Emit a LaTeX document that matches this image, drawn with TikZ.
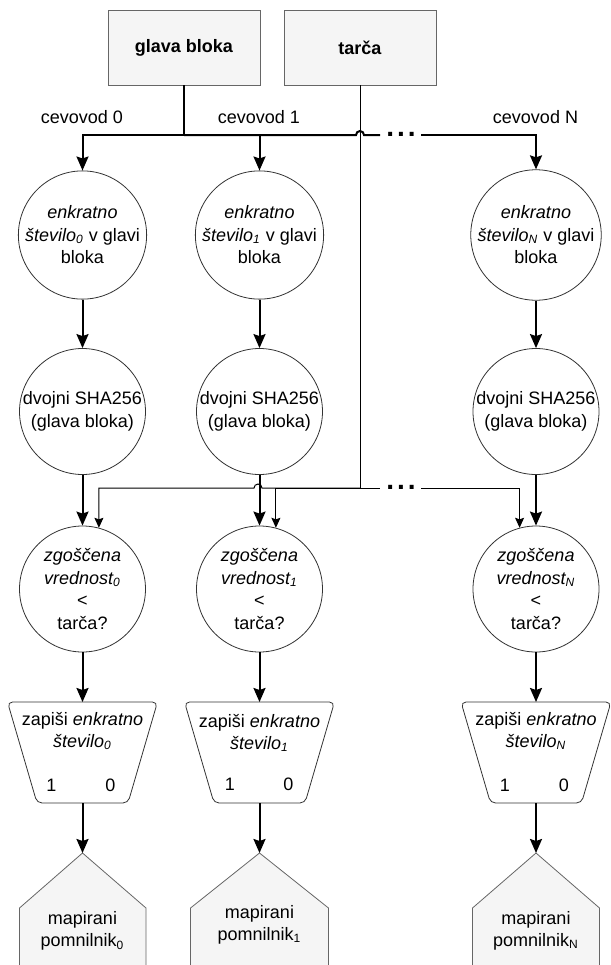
\documentclass[tikz,border=0pt]{standalone}
\usepackage{fontspec}
\setmainfont{Liberation Sans}
\usetikzlibrary{arrows.meta}

\begin{document}
\begin{tikzpicture}[x=0.5pt, y=-0.5pt,
    every node/.style={font=\fontsize{9}{11.25}\selectfont, align=center},
    box/.style={draw=black!60, fill=black!4, minimum width=76pt, minimum height=37.5pt, inner sep=0pt, font=\fontsize{9}{11.25}\selectfont\bfseries},
    ring/.style={circle, draw=black!80, minimum size=63pt, inner sep=0pt},
    zap/.style={draw=black!80, rounded corners=2.5pt},
    mem/.style={draw=black!60, fill=black!4},
    dots/.style={font=\fontsize{14}{16}\selectfont\bfseries, inner sep=0pt},
    arr/.style={line width=1pt, -{Stealth[length=7pt, width=6pt, inset=1pt]}},
    tarr/.style={line width=0.5pt, -{Stealth[length=5pt, width=4.5pt, inset=0.8pt]}},
    ]
    \useasboundingbox (0,0) rectangle (611,965);
    \clip (0,0) rectangle (611,965);

    % heads
    \node[box] (glava) at (184,47.5) {glava bloka};
    \node[box] (tarca) at (360,47.5) {tarča};
    \node (cev0) at (82,117) {cevovod 0};
    \node (cev1) at (259,117) {cevovod 1};
    \node (cevN) at (535.5,117) {cevovod N};

    % cevovod 0
    \node[ring] (enk0) at (82.5,235) {\textit{enkratno}\\\textit{število\textsubscript{0}} v glavi\\bloka};
    \node[ring] (dvo0) at (82.5,411.5) {dvojni SHA256\\(glava bloka)};
    \node[ring] (zgo0) at (82.5,589) {\textit{zgoščena}\\\textit{vrednost\textsubscript{0}}\\<\\tarča?};
    \draw[zap] (7.5,702) -- (157.5,702) -- (128,803) -- (37,803) -- cycle;
    \coordinate (zin0) at (82.5,702);
    \coordinate (zout0) at (82.5,803);
    \node (zt0) at (82.5,731) {zapiši \textit{enkratno}\\\textit{število\textsubscript{0}}};
    \node (ena0) at (51.5,785) {1};
    \node (nic0) at (110.5,785) {0};
    \draw[mem] (19.5,980) -- (19.5,908) -- (82.5,853) -- (146,908) -- (146,980);
    \coordinate (top0) at (82.5,853);
    \node (mp0) at (82.5,931) {mapirani\\pomnilnik\textsubscript{0}};

    % cevovod 1
    \node[ring] (enk1) at (259.5,235) {\textit{enkratno}\\\textit{število\textsubscript{1}} v glavi\\bloka};
    \node[ring] (dvo1) at (259.5,411.5) {dvojni SHA256\\(glava bloka)};
    \node[ring] (zgo1) at (259.5,589) {\textit{zgoščena}\\\textit{vrednost\textsubscript{1}}\\<\\tarča?};
    \draw[zap] (184.5,702) -- (334.5,702) -- (305,803) -- (214,803) -- cycle;
    \coordinate (zin1) at (259.5,702);
    \coordinate (zout1) at (259.5,803);
    \node (zt1) at (259.5,733) {zapiši \textit{enkratno}\\\textit{število\textsubscript{1}}};
    \node (ena1) at (230,784) {1};
    \node (nic1) at (288.5,784) {0};
    \draw[mem] (190.5,980) -- (190.5,908) -- (259.5,853) -- (328.5,908) -- (328.5,980);
    \coordinate (top1) at (259.5,853);
    \node (mp1) at (259.5,925) {mapirani\\pomnilnik\textsubscript{1}};

    % cevovod N
    \node[ring] (enkN) at (536,235) {\textit{enkratno}\\\textit{število\textsubscript{N}} v glavi\\bloka};
    \node[ring] (dvoN) at (536,411.5) {dvojni SHA256\\(glava bloka)};
    \node[ring] (zgoN) at (536,589) {\textit{zgoščena}\\\textit{vrednost\textsubscript{N}}\\<\\tarča?};
    \draw[zap] (461,702) -- (611,702) -- (581.5,803) -- (490.5,803) -- cycle;
    \coordinate (zinN) at (536,702);
    \coordinate (zoutN) at (536,803);
    \node (ztN) at (536,731) {zapiši \textit{enkratno}\\\textit{število\textsubscript{N}}};
    \node (enaN) at (505,785) {1};
    \node (nicN) at (564,785) {0};
    \draw[mem] (472.5,980) -- (472.5,908) -- (536,853) -- (599.5,908) -- (599.5,980);
    \coordinate (topN) at (536,853);
    \node (mpN) at (536,931) {mapirani\\pomnilnik\textsubscript{N}};

    % glava bloka to all pipelines
    \draw[line width=0.5pt] (tarca.south) -- (360,488);
    \draw[line width=1pt] (glava.south) -- (184,135);
    \draw[arr] (184,135) -| (enk0.north);
    \draw[arr] (184,135) -| (enk1.north);
    \draw[line width=1pt] (184,135) -- (356,135) arc(180:360:4) -- (380,135);
    \node[dots] (dt1) at (401,134) {.\hspace{1.5pt}.\hspace{1.5pt}.};
    \draw[arr] (421,135) -| (enkN.north);

    % tarca to all comparisons
    \draw[tarr] (360,488) -- (262,488) arc(0:-180:4) -| (zgo0.75);
    \draw[tarr] (360,488) -| (zgo1.75);
    \draw[line width=0.5pt] (360,488) -- (380,488);
    \node[dots] (dt2) at (401,487) {.\hspace{1.5pt}.\hspace{1.5pt}.};
    \draw[tarr] (421,488) -| (zgoN.105);

    % pipeline steps
    \draw[arr] (enk0.south) -- (dvo0.north);
    \draw[arr] (dvo0.south) -- (zgo0.north);
    \draw[arr] (zgo0.south) -- (zin0);
    \draw[arr] (zout0) -- (top0);
    \draw[arr] (enk1.south) -- (dvo1.north);
    \draw[arr] (dvo1.south) -- (zgo1.north);
    \draw[arr] (zgo1.south) -- (zin1);
    \draw[arr] (zout1) -- (top1);
    \draw[arr] (enkN.south) -- (dvoN.north);
    \draw[arr] (dvoN.south) -- (zgoN.north);
    \draw[arr] (zgoN.south) -- (zinN);
    \draw[arr] (zoutN) -- (topN);
\end{tikzpicture}
\end{document}
